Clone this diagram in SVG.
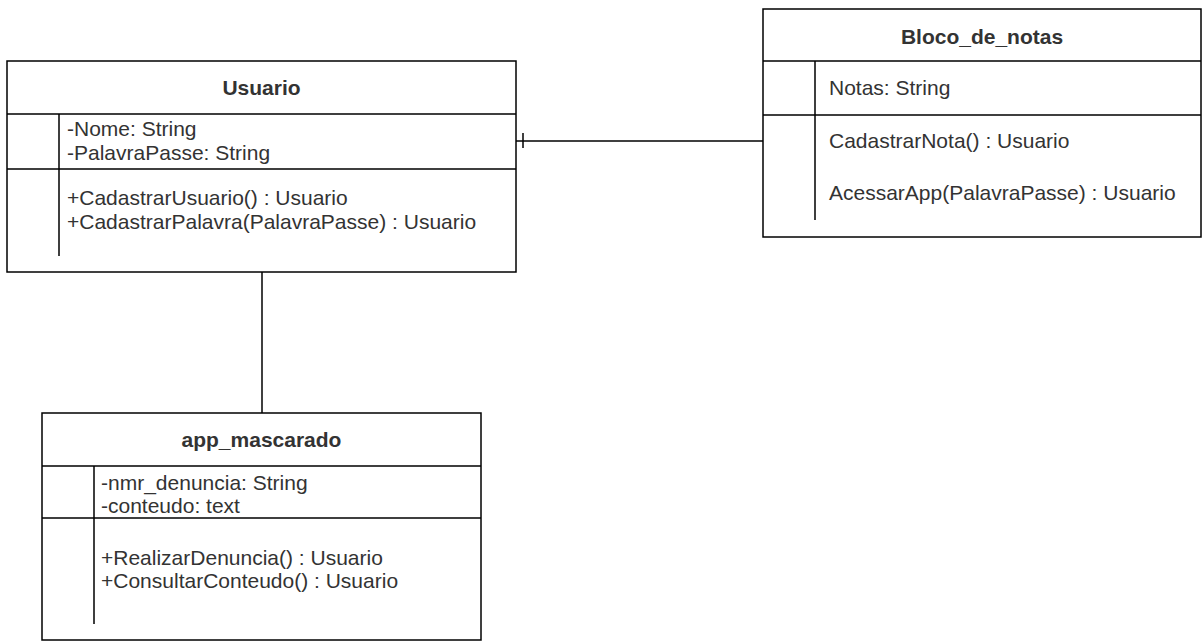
<svg xmlns="http://www.w3.org/2000/svg" width="1204" height="641" viewBox="0 0 1204 641">
<style>
.box{fill:#fff;stroke:#000;stroke-width:1.5}
.ln{fill:none;stroke:#000;stroke-width:1.5}
.t{font-family:"Liberation Sans",Arial,sans-serif;font-size:21px;fill:#333}
.h{font-family:"Liberation Sans",Arial,sans-serif;font-size:21px;font-weight:bold;fill:#333;text-anchor:middle}
</style>
<rect width="1204" height="641" fill="#fff"/>
<g id="connectors">
<path class="ln" d="M516,141 H763"/>
<path class="ln" d="M523,133 V148"/>
<path class="ln" d="M262,272 V413"/>
</g>
<g id="usuario">
<rect class="box" x="7" y="61" width="509" height="211"/>
<path class="ln" d="M7,114 H516 M7,169 H516 M59,114 V256"/>
<text class="h" x="261.5" y="95">Usuario</text>
<text class="t" x="67" y="136">-Nome: String</text>
<text class="t" x="67" y="160">-PalavraPasse: String</text>
<text class="t" x="67" y="205">+CadastrarUsuario() : Usuario</text>
<text class="t" x="67" y="229">+CadastrarPalavra(PalavraPasse) : Usuario</text>
</g>
<g id="bloco_de_notas">
<rect class="box" x="763" y="9" width="438" height="228"/>
<path class="ln" d="M763,61 H1201 M763,115 H1201 M815,61 V220"/>
<text class="h" x="982" y="44">Bloco_de_notas</text>
<text class="t" x="829" y="95">Notas: String</text>
<text class="t" x="829" y="148">CadastrarNota() : Usuario</text>
<text class="t" x="829" y="200">AcessarApp(PalavraPasse) : Usuario</text>
</g>
<g id="app_mascarado">
<rect class="box" x="42" y="413" width="439" height="227"/>
<path class="ln" d="M42,466 H481 M42,518 H481 M94,466 V624"/>
<text class="h" x="261.5" y="447">app_mascarado</text>
<text class="t" x="101" y="490">-nmr_denuncia: String</text>
<text class="t" x="101" y="513">-conteudo: text</text>
<text class="t" x="101" y="565">+RealizarDenuncia() : Usuario</text>
<text class="t" x="101" y="588">+ConsultarConteudo() : Usuario</text>
</g>
</svg>
